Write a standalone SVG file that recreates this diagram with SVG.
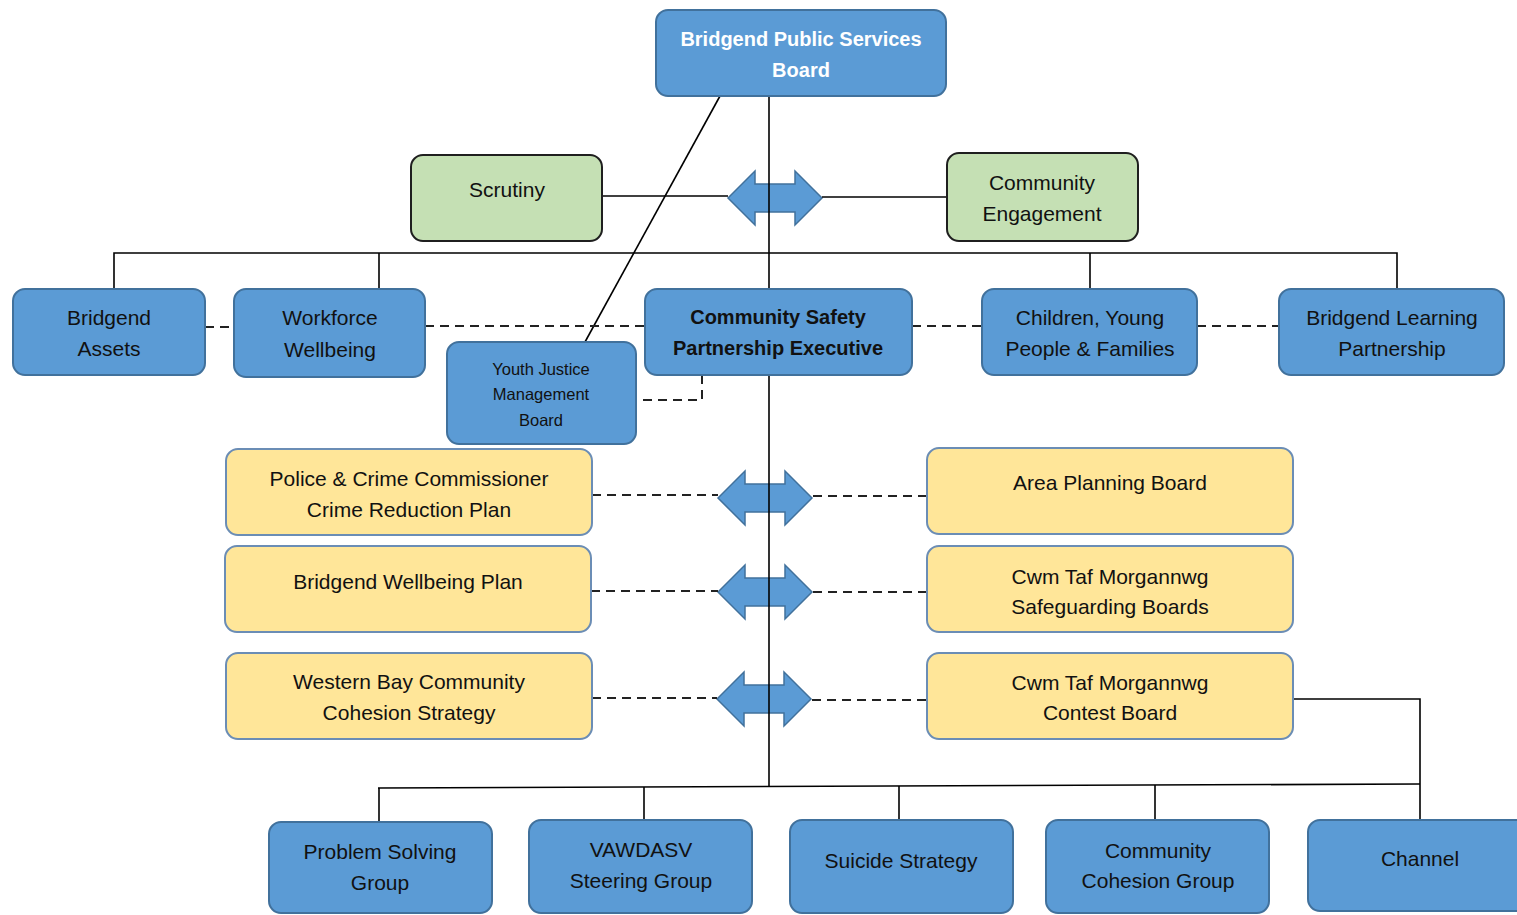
<svg xmlns="http://www.w3.org/2000/svg" width="1517" height="915" viewBox="0 0 1517 915">
<style>
.b{fill:#5B9BD5;stroke:#41719C;stroke-width:2}
.g{fill:#C5E0B4;stroke:#1F1F1F;stroke-width:2}
.y{fill:#FFE699;stroke:#6B8DB5;stroke-width:2}
.arr{fill:#5B9BD5;stroke:#41719C;stroke-width:1.5}
.ln{stroke:#000;stroke-width:1.6;fill:none}
.ds{stroke:#222;stroke-width:2;fill:none;stroke-dasharray:9 6}
text{font-family:"Liberation Sans",Arial,sans-serif;font-size:21px;fill:#111;text-anchor:middle;dominant-baseline:central}
.wb{fill:#fff;font-weight:bold;font-size:20px}
.kb{font-weight:bold;font-size:20px}
.sm{font-size:16.5px}
</style>
<defs>
<path id="dbl" d="M-47,0 L-20,-27 L-20,-14 L20,-14 L20,-27 L47,0 L20,27 L20,14 L-20,14 L-20,27 Z"/>
</defs>
<g id="arrows">
<use href="#dbl" class="arr" x="775" y="198"/>
<use href="#dbl" class="arr" x="765" y="498"/>
<use href="#dbl" class="arr" x="765" y="592"/>
<use href="#dbl" class="arr" x="764" y="699"/>
</g>
<g id="connectors">
<line class="ln" x1="769" y1="96" x2="769" y2="289"/>
<line class="ln" x1="769" y1="375" x2="769" y2="786"/>
<line class="ln" x1="602" y1="196" x2="728" y2="196"/>
<line class="ln" x1="822" y1="197" x2="947" y2="197"/>
<line class="ln" x1="720" y1="96" x2="585" y2="342" stroke-width="1.2"/>
<polyline class="ln" points="114,289 114,253 1397,253 1397,289"/>
<line class="ln" x1="379" y1="253" x2="379" y2="289"/>
<line class="ln" x1="1090" y1="253" x2="1090" y2="289"/>
<line class="ds" x1="205" y1="327" x2="234" y2="327"/>
<line class="ds" x1="425" y1="326" x2="645" y2="326"/>
<line class="ds" x1="912" y1="326" x2="982" y2="326"/>
<line class="ds" x1="1197" y1="326" x2="1279" y2="326"/>
<polyline class="ds" points="702,375 702,400 636,400"/>
<line class="ds" x1="592" y1="495" x2="718" y2="495"/>
<line class="ds" x1="813" y1="496" x2="927" y2="496"/>
<line class="ds" x1="591" y1="591" x2="718" y2="591"/>
<line class="ds" x1="813" y1="592" x2="927" y2="592"/>
<line class="ds" x1="592" y1="698" x2="717" y2="698"/>
<line class="ds" x1="812" y1="700" x2="927" y2="700"/>
<polyline class="ln" points="1293,699 1420,699 1420,820"/>
<line class="ln" x1="378" y1="788" x2="1420" y2="784"/>
<line class="ln" x1="379" y1="788" x2="379" y2="822"/>
<line class="ln" x1="644" y1="787" x2="644" y2="820"/>
<line class="ln" x1="899" y1="786" x2="899" y2="820"/>
<line class="ln" x1="1155" y1="785" x2="1155" y2="820"/>
</g>
<g id="psb"><rect class="b" x="656" y="10" width="290" height="86" rx="12"/><text class="wb" x="801" y="39">Bridgend Public Services</text><text class="wb" x="801" y="70">Board</text></g>
<g id="scrutiny"><rect class="g" x="411" y="155" width="191" height="86" rx="12"/><text x="507" y="189">Scrutiny</text></g>
<g id="engagement"><rect class="g" x="947" y="153" width="191" height="88" rx="12"/><text x="1042" y="182">Community</text><text x="1042" y="213">Engagement</text></g>
<g id="assets"><rect class="b" x="13" y="289" width="192" height="86" rx="12"/><text x="109" y="317">Bridgend</text><text x="109" y="348">Assets</text></g>
<g id="workforce"><rect class="b" x="234" y="289" width="191" height="88" rx="12"/><text x="330" y="317">Workforce</text><text x="330" y="349">Wellbeing</text></g>
<g id="cspe"><rect class="b" x="645" y="289" width="267" height="86" rx="12"/><text class="kb" x="778" y="317">Community Safety</text><text class="kb" x="778" y="348">Partnership Executive</text></g>
<g id="children"><rect class="b" x="982" y="289" width="215" height="86" rx="12"/><text x="1090" y="317">Children, Young</text><text x="1090" y="348">People &amp; Families</text></g>
<g id="learning"><rect class="b" x="1279" y="289" width="225" height="86" rx="12"/><text x="1392" y="317">Bridgend Learning</text><text x="1392" y="348">Partnership</text></g>
<g id="youth"><rect class="b" x="447" y="342" width="189" height="102" rx="12"/><text class="sm" x="541" y="369">Youth Justice</text><text class="sm" x="541" y="394">Management</text><text class="sm" x="541" y="420">Board</text></g>
<g id="pcc"><rect class="y" x="226" y="449" width="366" height="86" rx="12"/><text x="409" y="478">Police &amp; Crime Commissioner</text><text x="409" y="509">Crime Reduction Plan</text></g>
<g id="apb"><rect class="y" x="927" y="448" width="366" height="86" rx="12"/><text x="1110" y="482">Area Planning Board</text></g>
<g id="wellbeing"><rect class="y" x="225" y="546" width="366" height="86" rx="12"/><text x="408" y="581">Bridgend Wellbeing Plan</text></g>
<g id="safeguarding"><rect class="y" x="927" y="546" width="366" height="86" rx="12"/><text x="1110" y="576">Cwm Taf Morgannwg</text><text x="1110" y="606">Safeguarding Boards</text></g>
<g id="cohesionstrat"><rect class="y" x="226" y="653" width="366" height="86" rx="12"/><text x="409" y="681">Western Bay Community</text><text x="409" y="712">Cohesion Strategy</text></g>
<g id="contest"><rect class="y" x="927" y="653" width="366" height="86" rx="12"/><text x="1110" y="682">Cwm Taf Morgannwg</text><text x="1110" y="712">Contest Board</text></g>
<g id="problem"><rect class="b" x="269" y="822" width="223" height="91" rx="12"/><text x="380" y="851">Problem Solving</text><text x="380" y="882">Group</text></g>
<g id="vawdasv"><rect class="b" x="529" y="820" width="223" height="93" rx="12"/><text x="641" y="849">VAWDASV</text><text x="641" y="880">Steering Group</text></g>
<g id="suicide"><rect class="b" x="790" y="820" width="223" height="93" rx="12"/><text x="901" y="860">Suicide Strategy</text></g>
<g id="cohesion"><rect class="b" x="1046" y="820" width="223" height="93" rx="12"/><text x="1158" y="850">Community</text><text x="1158" y="880">Cohesion Group</text></g>
<g id="channel"><rect class="b" x="1308" y="820" width="222" height="91" rx="12"/><text x="1420" y="858">Channel</text></g>
</svg>
